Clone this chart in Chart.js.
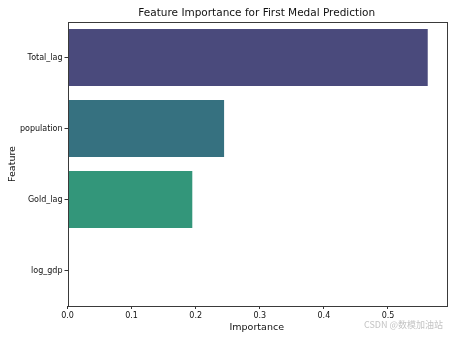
<!DOCTYPE html>
<html lang="en">
<head>
  <meta charset="UTF-8">
  <title>Feature Importance for First Medal Prediction</title>
  <script src="https://cdn.jsdelivr.net/npm/chart.js"></script>
  <style>
    html, body { margin: 0; padding: 0; background: #fff; }
    .wrap { position: relative; width: 454px; height: 340px; }
    .mark {
      position: absolute; right: 11px; top: 318px;
      font: 9px "Noto Sans CJK SC", "DejaVu Sans", sans-serif;
      color: #c4c4c4; white-space: nowrap;
    }
  </style>
</head>
<body>
  <div class="wrap">
    <canvas id="importanceChart" width="454" height="340"></canvas>
    <div class="mark">CSDN @数模加油站</div>
  </div>

  <script>
    // feature importances, top feature first
    const features = ['Total_lag', 'population', 'Gold_lag', 'log_gdp'];
    const importance = [0.562, 0.2443, 0.1947, 0];
    const barColors = ['#4a4a7c', '#367180', '#33967a', '#c8c24e'];
    const xTicks = [0, 0.1, 0.2, 0.3, 0.4, 0.5];
    const xMax = 0.5905;
    const chartTitle = 'Feature Importance for First Medal Prediction';

    const font = 'DejaVu Sans';

    // box around the plotting area (all four spines) + title centred over the axes
    const frame = {
      id: 'frame',
      afterDatasetsDraw(chart) {
        const { ctx, chartArea: a } = chart;
        ctx.save();
        ctx.strokeStyle = '#3a3a3a';
        ctx.lineWidth = 1;
        ctx.strokeRect(Math.round(a.left) + 0.5, Math.round(a.top) + 0.5,
          Math.round(a.right - a.left), Math.round(a.bottom - a.top));
        ctx.fillStyle = '#111';
        ctx.font = '10.5px "' + font + '"';
        ctx.textAlign = 'center';
        ctx.textBaseline = 'middle';
        ctx.fillText(chartTitle, (a.left + a.right) / 2, 13);
        ctx.restore();
      }
    };

    const ctx = document.getElementById('importanceChart').getContext('2d');
    const importanceChart = new Chart(ctx, {
      type: 'bar',
      data: {
        labels: features,
        datasets: [{
          label: 'Importance',
          data: importance,
          backgroundColor: barColors,
          borderWidth: 0,
          categoryPercentage: 1,
          barPercentage: 0.8
        }]
      },
      options: {
        indexAxis: 'y',
        responsive: false,
        animation: false,
        layout: { padding: { left: 0, right: 8, top: 22, bottom: 0 } },
        scales: {
          x: {
            min: 0,
            max: xMax,
            afterBuildTicks: (scale) => { scale.ticks = xTicks.map(v => ({ value: v })); },
            afterFit: (scale) => { scale.height = 34; },
            grid: { drawOnChartArea: false, tickLength: 3, color: '#333' },
            border: { display: false },
            ticks: {
              color: '#111', padding: 2,
              font: { family: font, size: 8 },
              callback: (v) => Number(v).toFixed(1)
            },
            title: {
              display: true, text: 'Importance', color: '#111',
              font: { family: font, size: 9.5 },
              padding: { top: 0, bottom: 7 }
            }
          },
          y: {
            afterFit: (scale) => { scale.width = 67.5; },
            grid: { drawOnChartArea: false, offset: false, tickLength: 3, color: '#333' },
            border: { display: false },
            ticks: {
              color: '#111', padding: 2,
              font: { family: font, size: 8 }
            },
            title: {
              display: true, text: 'Feature', color: '#111',
              font: { family: font, size: 9.5 },
              padding: { top: 7, bottom: 0 }
            }
          }
        },
        plugins: {
          legend: { display: false },
          tooltip: { enabled: false }
        }
      },
      plugins: [frame]
    });
  </script>
</body>
</html>
